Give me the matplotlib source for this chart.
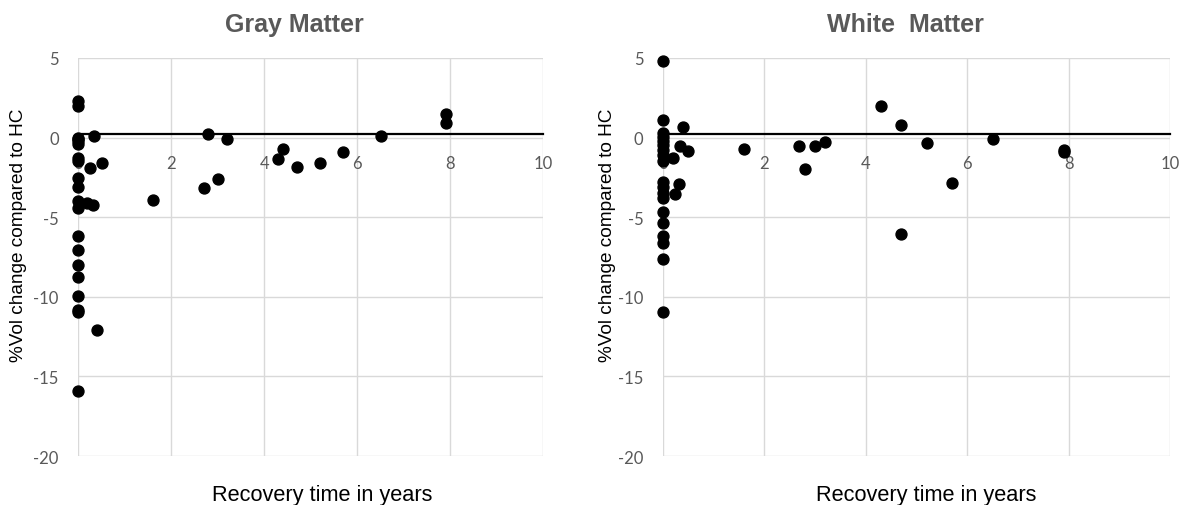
import matplotlib
matplotlib.use('Agg')
import matplotlib.pyplot as plt

plt.rcParams['font.family'] = ['Liberation Sans', 'DejaVu Sans']
plt.rcParams['axes.unicode_minus'] = False

# Gray matter: recovery time (years) vs %Vol change
gm_x = [0, 0, 0, 0, 0, 0, 0, 0, 0, 0, 0, 0, 0, 0, 0, 0, 0, 0, 0, 0,
        0.19, 0.32, 0.33, 0.26, 0.51, 0.4,
        1.6, 2.71, 3.0, 2.8, 3.2, 4.3, 4.4, 4.7, 5.2, 5.7, 6.5, 7.9, 7.9]
gm_y = [2.3, 2.0, 0.0, -0.2, -0.4, -1.5, -2.55, -3.1, -4.0, -4.45,
        -6.2, -7.05, -8.0, -8.75, -9.95, -10.85, -10.95, -15.9, -1.3, -0.1,
        -4.1, -4.25, 0.1, -1.9, -1.57, -12.1,
        -3.94, -3.15, -2.58, 0.25, -0.09, -1.32, -0.72, -1.87, -1.62, -0.92, 0.12, 1.5, 0.92]

# White matter
wm_x = [0, 0, 0, 0, 0, 0, 0, 0, 0, 0, 0, 0, 0, 0, 0, 0, 0, 0, 0,
        0.39, 0.33, 0.5, 0.2, 0.31, 0.24,
        1.59, 2.69, 3.0, 3.2, 2.81, 4.3, 4.7, 5.2, 6.5, 7.9, 7.9, 5.7, 4.7]
wm_y = [4.82, 1.1, 0.3, 0.05, -0.2, -0.45, -0.8, -1.1, -1.5, -2.8, -3.1, -3.5,
        -3.8, -4.7, -5.35, -6.15, -6.65, -7.6, -10.97,
        0.68, -0.5, -0.87, -1.25, -2.92, -3.55,
        -0.69, -0.52, -0.54, -0.25, -1.95, 1.96, 0.78, -0.33, -0.06, -0.78, -0.88, -2.87, -6.03]

titles = ['Gray Matter', 'White  Matter']
xlabel = 'Recovery time in years'
ylabel = '%Vol change compared to HC'
ref_line = [0.2, 0.2]

fig = plt.figure(figsize=(11.81, 5.06), dpi=100)
ax1 = fig.add_axes([0.0663, 0.0968, 0.3937, 0.7866])
ax2 = fig.add_axes([0.5614, 0.0968, 0.4293, 0.7866])

grid_c = '#d9d9d9'
tick_c = '#595959'
title_x = [0.465, 0.478]

for i, (ax, xs, ys) in enumerate([(ax1, gm_x, gm_y), (ax2, wm_x, wm_y)]):
    ax.set_xlim(0, 10)
    ax.set_ylim(-20, 5)
    ax.set_xticks(range(0, 11, 2))
    ax.set_yticks(range(-20, 6, 5))
    ax.grid(True, color=grid_c, linewidth=1)
    ax.set_axisbelow(True)
    for s in ['top', 'right', 'left']:
        ax.spines[s].set_visible(False)
    ax.spines['bottom'].set_position(('data', ref_line[i]))
    ax.spines['bottom'].set_color('black')
    ax.spines['bottom'].set_linewidth(1.6)
    ax.spines['bottom'].set_zorder(1.5)
    ax.tick_params(axis='both', length=0, colors=tick_c, labelsize=12)
    ax.tick_params(axis='x', pad=15)
    ax.tick_params(axis='y', pad=14)
    for lab in ax.get_xticklabels() + ax.get_yticklabels():
        lab.set_family(['Lato', 'DejaVu Sans'])
    ax.scatter(xs, ys, s=62, color='black', zorder=3, clip_on=False)
    ax.text(title_x[i], 1.085, titles[i], transform=ax.transAxes, ha='center', va='center',
            fontsize=18, fontweight='bold', color=tick_c)
    ax.set_xlabel(xlabel, fontsize=15.7)
    ax.set_ylabel(ylabel, fontsize=13.7)

ax1.xaxis.set_label_coords(0.524, -0.07)
ax2.xaxis.set_label_coords(0.519, -0.07)
ax1.yaxis.set_label_coords(-0.11, 0.558)
ax2.yaxis.set_label_coords(-0.093, 0.558)

fig.savefig('out.png', dpi=100, facecolor='white')
